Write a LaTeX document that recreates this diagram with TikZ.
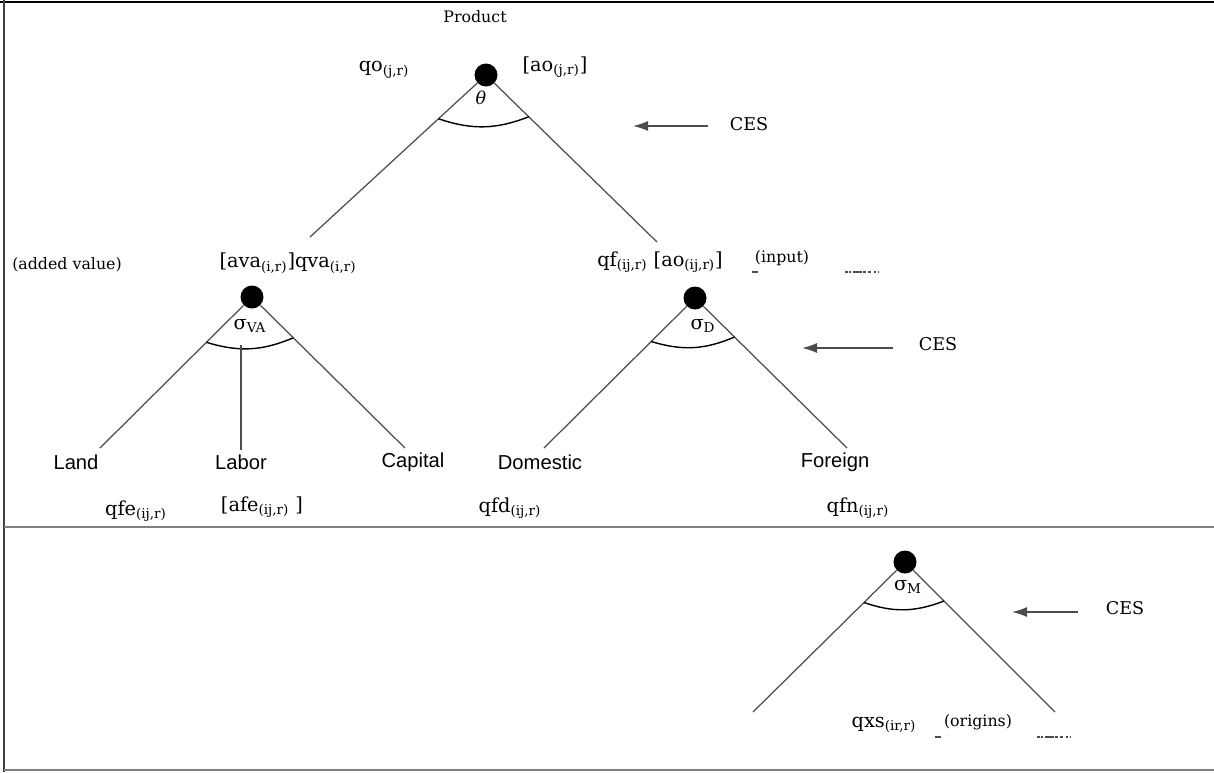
\documentclass[tikz,border=0pt]{standalone}
\usepackage{fontspec}
\setmainfont{DejaVu Serif}
\newfontfamily\arialfont{Liberation Sans}
\usetikzlibrary{calc,arrows.meta}
\newcommand\rsub[1]{\textsubscript{(#1)}}
\tikzset{
  knot/.style={circle,fill=black,inner sep=0pt,minimum size=0.46cm},
  branch/.style={line width=0.7pt,draw=black!70},
  lbl/.style={inner sep=1pt,font=\fontsize{11}{13}\selectfont},
  note/.style={inner sep=1pt,font=\fontsize{9}{11}\selectfont},
  factor/.style={inner sep=1pt,font=\fontsize{11.5}{13}\selectfont\arialfont},
  ces/.style={inner sep=1pt,font=\fontsize{10}{12}\selectfont},
  cesarrow/.style={-{Latex[length=0.3cm,width=0.2cm]},line width=0.8pt,draw=black!70},
}
\begin{document}
\begin{tikzpicture}[x=0.02cm,y=-0.02cm]
\useasboundingbox (0,0) rectangle (1214,772);
% frame
\draw[line width=1.2pt] (0,2) -- (1214,2);
\draw[line width=1.6pt,black!75] (4,0) -- (4,772);
\draw[line width=0.8pt,black!50] (4,527) -- (1214,527);
\draw[line width=0.8pt,black!50] (4,770) -- (1214,770);

% top nest: product
\node[note] (prodtxt) at (475,17) {Product};
\node[knot] (prod) at (486,75) {};
\node[lbl] (qo) at (384,70) {qo\rsub{j,r}};
\node[lbl] (ao) at (555,67) {[ao\rsub{j,r}]};
\node[inner sep=0pt,font=\fontsize{10}{12}\selectfont\itshape] (theta) at (481,98) {θ};
\coordinate (prodL) at (310,237);
\coordinate (prodR) at (657,242);
\draw[branch] (prod) -- (prodL);
\draw[branch] (prod) -- (prodR);
\draw[line width=0.8pt] ($(prod)!0.27!(prodL)$) to[bend right=20] ($(prod)!0.25!(prodR)$);
\node[ces] (ces1) at (749,124) {CES};
\coordinate (ces1a) at (708,126);
\coordinate (ces1b) at (633,126);
\draw[cesarrow] (ces1a) -- (ces1b);

% value added nest
\node[note] (addval) at (67,265) {(added value)};
\node[lbl] (qva) at (288,263) {[ava\rsub{i,r}]qva\rsub{i,r}};
\node[knot] (va) at (252,297) {};
\node[lbl] (sva) at (250,326) {σ\textsubscript{VA}};
\coordinate (vaL) at (100,448);
\coordinate (vaR) at (405,448);
\draw[branch] (va) -- (vaL);
\draw[branch] (va) -- (vaR);
\draw[line width=0.8pt] ($(va)!0.3!(vaL)$) to[bend right=20] ($(va)!0.27!(vaR)$);
\coordinate (vaM) at (241,345);
\coordinate (vaB) at (241,450);
\draw[branch] (vaM) -- (vaB);
\node[factor] (land) at (76,462) {Land};
\node[factor] (labor) at (241,462) {Labor};
\node[factor] (capital) at (413,462) {Capital};
\node[lbl] (qfe) at (136,511) {qfe\rsub{ij,r}};
\node[lbl] (afe) at (262,507) {[afe\rsub{ij,r} ]};

% intermediate input nest
\node[lbl] (qf) at (660,262) {qf\rsub{ij,r} [ao\rsub{ij,r}]};
\node[note] (input) at (782,258) {(input)};
\draw[line width=0.6pt,black!70] (752,272) -- (758,272);
\draw[line width=0.6pt,black!70,dash pattern=on 1.5pt off 1pt on 1pt off 1pt on 5pt off 1pt on 1.5pt off 1pt on 2pt] (845,272) -- (883,272);
\node[knot] (fd) at (695,298) {};
\node[lbl] (sd) at (703,326) {σ\textsubscript{D}};
\coordinate (fdL) at (544,448);
\coordinate (fdR) at (847,448);
\draw[branch] (fd) -- (fdL);
\draw[branch] (fd) -- (fdR);
\draw[line width=0.8pt] ($(fd)!0.29!(fdL)$) to[bend right=20] ($(fd)!0.26!(fdR)$);
\node[ces] (ces2) at (938,344) {CES};
\coordinate (ces2a) at (893,348);
\coordinate (ces2b) at (802,348);
\draw[cesarrow] (ces2a) -- (ces2b);
\node[factor] (dom) at (540,462) {Domestic};
\node[factor] (for) at (835,462) {Foreign};
\node[lbl] (qfd) at (510,508) {qfd\rsub{ij,r}};
\node[lbl] (qfn) at (858,508) {qfn\rsub{ij,r}};

% import origins nest
\node[knot] (imp) at (905,562) {};
\node[lbl] (sm) at (908,587) {σ\textsubscript{M}};
\coordinate (impL) at (753,712);
\coordinate (impR) at (1055,712);
\draw[branch] (imp) -- (impL);
\draw[branch] (imp) -- (impR);
\draw[line width=0.8pt] ($(imp)!0.27!(impL)$) to[bend right=20] ($(imp)!0.26!(impR)$);
\node[ces] (ces3) at (1125,608) {CES};
\coordinate (ces3a) at (1078,612);
\coordinate (ces3b) at (1012,612);
\draw[cesarrow] (ces3a) -- (ces3b);
\node[lbl] (qxs) at (884,725) {qxs\rsub{ir,r}};
\node[note] (origins) at (978,722) {(origins)};
\draw[line width=0.6pt,black!70] (935,737) -- (941,737);
\draw[line width=0.6pt,black!70,dash pattern=on 1.5pt off 1pt on 1pt off 1pt on 5pt off 1pt on 1.5pt off 1pt on 2pt] (1037,737) -- (1075,737);
\end{tikzpicture}
\end{document}
